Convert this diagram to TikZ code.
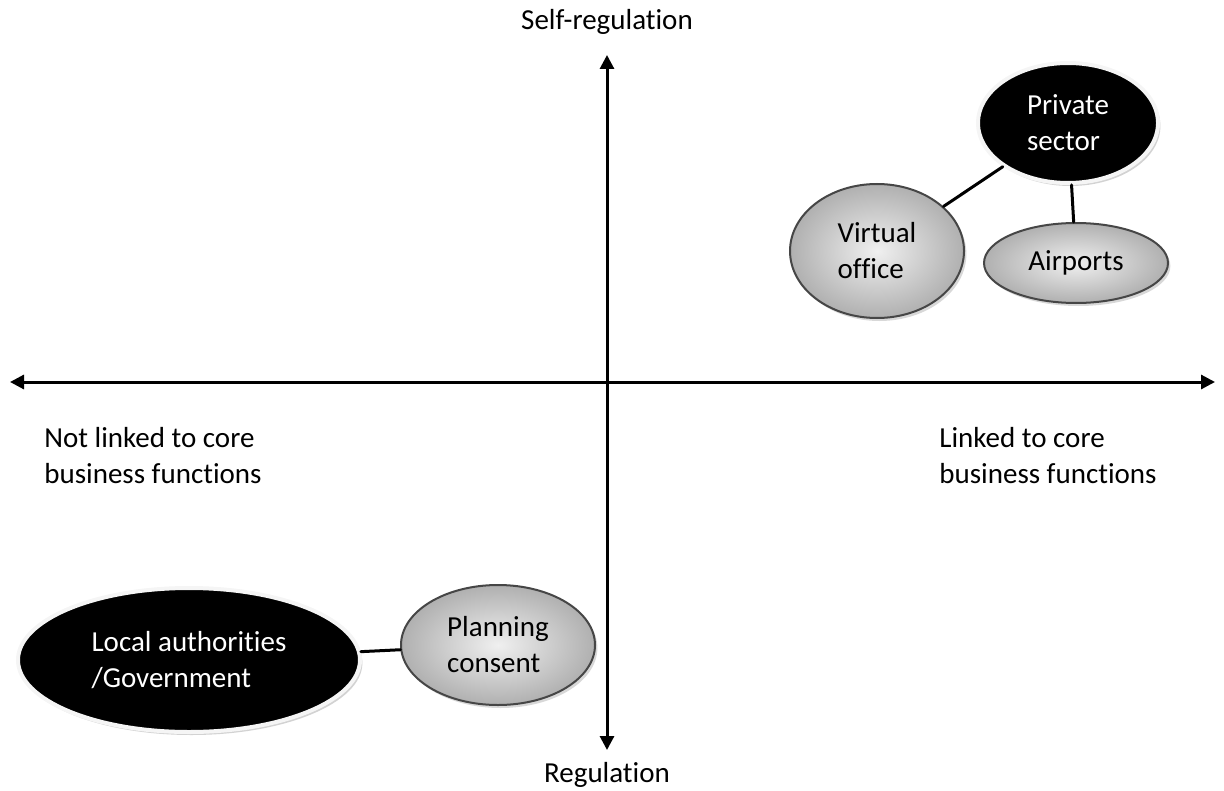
\documentclass[tikz,border=0pt]{standalone}
\usepackage{fontspec}
\setmainfont{Carlito}[Ligatures=NoCommon]
\usetikzlibrary{shapes.geometric,shadows,arrows.meta}
\begin{document}
\begin{tikzpicture}[x=.5pt,y=-.5pt,line width=1.5pt,>={Triangle[length=7pt,width=7pt]},
 line cap=round,line join=round,font=\fontsize{14.5}{18}\selectfont,
 darkblob/.style={ellipse,inner sep=0pt,align=left,text=white,fill=black,
  draw=gray!8,line width=2pt,drop shadow={shadow xshift=1.2pt,shadow yshift=-1.5pt,fill=gray!70}},
 greyblob/.style={ellipse,inner sep=0pt,align=left,shading=radial,inner color=gray!12,
  outer color=gray!62,draw=gray!55!black,line width=1pt,
  drop shadow={shadow xshift=1.2pt,shadow yshift=-1.5pt,fill=gray!60}}]
 \useasboundingbox (0,0) rectangle (1224,791);
 % axes
 \coordinate (north) at (607,55);
 \coordinate (south) at (607,750);
 \coordinate (west) at (10,382);
 \coordinate (east) at (1215,382);
 \draw[<->] (south)--(north);
 \draw[<->] (west)--(east);
 \node (selfreg) at (607,22) {Self-regulation};
 \node (regul) at (607,775) {Regulation};
 \node[align=left] (notlinked) at (153,456) {Not linked to core\\business functions};
 \node[align=left] (linked) at (1048,456) {Linked to core\\business functions};
 % upper right cluster
 \node[darkblob,minimum width=90pt,minimum height=60pt] (private) at (1068,123) {Private\\sector};
 \node[greyblob,minimum width=87pt,minimum height=67pt] (virtual) at (877,251) {Virtual\\office};
 \node[greyblob,minimum width=92pt,minimum height=40pt] (airports) at (1076,263) {Airports};
 \draw (private)--(virtual);
 \draw (private)--(airports);
 % lower left cluster
 \node[darkblob,minimum width=171pt,minimum height=72pt] (local) at (189,660) {Local authorities\\/Government};
 \node[greyblob,minimum width=97pt,minimum height=60pt] (planning) at (498,645) {Planning\\consent};
 \draw (local)--(planning);
\end{tikzpicture}
\end{document}
